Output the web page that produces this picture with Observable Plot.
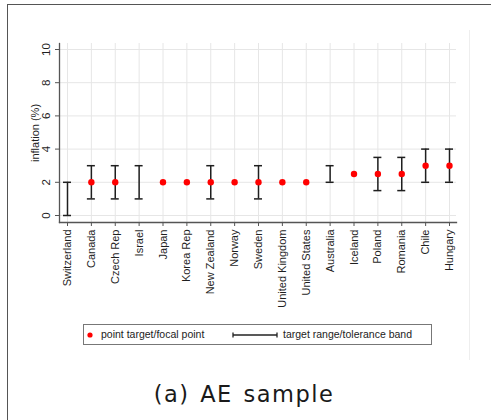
<!DOCTYPE html>
<html>
<head>
<meta charset="utf-8">
<script src="https://cdn.jsdelivr.net/npm/d3@7"></script>
<script src="https://cdn.jsdelivr.net/npm/@observablehq/plot@0.6"></script>
<style>
  html, body { margin: 0; padding: 0; background: #fff; }
  #wrap { position: relative; width: 491px; height: 420px; overflow: hidden; font-family: "Liberation Sans", Arial, sans-serif; }
  #frame { position: absolute; left: 7px; top: 4px; width: 500px; height: 430px; border-left: 1.5px solid #555; border-top: 1.5px solid #555; }
  #edge { position: absolute; left: 469px; top: 30px; width: 1px; height: 330px; background: #eeeeee; }
  #chart { position: absolute; left: 0; top: 0; }
  #legend { position: absolute; left: 83px; top: 324px; width: 349px; height: 21px; border: 1px solid #777; box-sizing: border-box; font-size: 10.5px; color: #222; }
  #legend .item { position: absolute; top: 3px; white-space: nowrap; }
  #caption { position: absolute; left: 0; width: 488px; top: 381px; line-height: 26px; text-align: center; font-family: "DejaVu Sans", sans-serif; font-size: 22.5px; letter-spacing: 1.5px; word-spacing: 2px; color: #1a1a1a; }
</style>
</head>
<body>
<div id="wrap">
  <div id="frame"></div>
  <div id="edge"></div>
  <div id="chart"></div>
  <div id="legend">
    <svg style="position:absolute;left:0;top:0" width="349" height="21">
      <circle cx="6" cy="10" r="2.6" fill="red"></circle>
      <line x1="149" x2="193" y1="10" y2="10" stroke="#222" stroke-width="1.3"></line>
      <line x1="149" x2="149" y1="7.5" y2="12.5" stroke="#222" stroke-width="1.3"></line>
      <line x1="193" x2="193" y1="7.5" y2="12.5" stroke="#222" stroke-width="1.3"></line>
    </svg>
    <span class="item" style="left:17px">point target/focal point</span>
    <span class="item" style="left:199px">target range/tolerance band</span>
  </div>
  <div id="caption">(a) AE sample</div>
</div>
<script>
const categories = ["Switzerland","Canada","Czech Rep","Israel","Japan","Korea Rep","New Zealand","Norway","Sweden","United Kingdom","United States","Australia","Iceland","Poland","Romania","Chile","Hungary"];
const pointTargets = [null, 2, 2, null, 2, 2, 2, 2, 2, 2, 2, null, 2.5, 2.5, 2.5, 3, 3];
const rangeLow  = [0, 1, 1, 1, null, null, 1, null, 1, null, null, 2, null, 1.5, 1.5, 2, 2];
const rangeHigh = [2, 3, 3, 3, null, null, 3, null, 3, null, null, 3, null, 3.5, 3.5, 4, 4];
const yTicks = [0, 2, 4, 6, 8, 10];

const table = categories.map((c, i) => ({country: c, point: pointTargets[i], lo: rangeLow[i], hi: rangeHigh[i]}));
const pts = table.filter(d => d.point != null);
const ranges = table.filter(d => d.lo != null);

const ink = "#1f1f1f";
const chart = Plot.plot({
  width: 491,
  height: 320,
  marginLeft: 59,
  marginRight: 35,
  marginTop: 43,
  marginBottom: 98,
  style: {background: "transparent", fontFamily: "Liberation Sans, Arial, sans-serif"},
  x: {type: "point", domain: categories, range: [67, 449], padding: 0, round: false, axis: null},
  y: {domain: [0, 10], range: [215, 49], axis: null},
  marks: [
    Plot.gridX(categories, {stroke: "#e6e6e6", strokeOpacity: 1}),
    Plot.gridY(yTicks, {stroke: "#e6e6e6", strokeOpacity: 1}),
    Plot.frame({anchor: "left", stroke: "#555", strokeWidth: 1.3}),
    Plot.frame({anchor: "bottom", stroke: "#555", strokeWidth: 1.3}),
    Plot.axisY({ticks: yTicks, tickSize: 4, tickFormat: () => "", label: null, stroke: "#555"}),
    Plot.axisX({ticks: categories, tickSize: 4, tickFormat: () => "", label: null, stroke: "#555"}),
    Plot.text(yTicks, {y: d => d, text: d => String(d), frameAnchor: "left", dx: -13, rotate: -90, textAnchor: "middle", lineAnchor: "middle", fontSize: 11.5, fill: ink}),
    Plot.text(categories, {x: d => d, text: d => d, frameAnchor: "bottom", dy: 7, rotate: -90, textAnchor: "end", lineAnchor: "middle", fontSize: 11, fill: ink}),
    Plot.text(["inflation (%)"], {text: d => d, frameAnchor: "left", dx: -24, rotate: -90, textAnchor: "middle", lineAnchor: "middle", fontSize: 11, fill: ink}),
    Plot.ruleX(ranges, {x: "country", y1: "lo", y2: "hi", stroke: ink, strokeWidth: 1.5}),
    Plot.ruleY(ranges, {x1: "country", x2: "country", y: "lo", insetLeft: -4, insetRight: -4, stroke: ink, strokeWidth: 1.5}),
    Plot.ruleY(ranges, {x1: "country", x2: "country", y: "hi", insetLeft: -4, insetRight: -4, stroke: ink, strokeWidth: 1.5}),
    Plot.dot(pts, {x: "country", y: "point", r: 3.2, fill: "red", stroke: "none"})
  ]
});
document.getElementById("chart").appendChild(chart);
</script>
</body>
</html>
